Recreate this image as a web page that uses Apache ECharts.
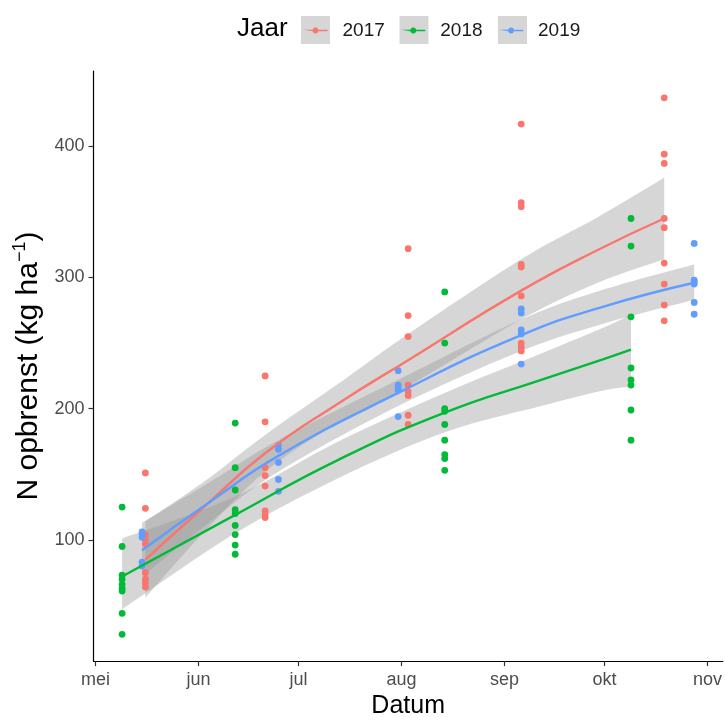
<!DOCTYPE html>
<html>
<head>
<meta charset="utf-8">
<script src="https://cdn.jsdelivr.net/npm/echarts@6/dist/echarts.min.js"></script>
<style>
  html, body { margin: 0; padding: 0; background: #fff; }
  #chart { width: 725px; height: 724px; }
</style>
</head>
<body>
<div id="chart"></div>
<script>
var years = ['2017', '2018', '2019'];
var colors = ['#F8766D', '#00BA38', '#619CFF'];
var monthDates = ['05-01', '06-01', '07-01', '08-01', '09-01', '10-01', '11-01'];
var monthLabels = ['mei', 'jun', 'jul', 'aug', 'sep', 'okt', 'nov'];
var yTicks = [100, 200, 300, 400];

// bemonsteringsdata per jaar
var dates2017 = ['05-16', '06-21', '08-03', '09-06', '10-19'];
var values2017 = [
    [151, 124, 104, 100, 97, 75, 70, 67, 64],
    [225, 190, 155, 149, 141, 122, 119, 117],
    [322, 271, 255, 218, 213, 210, 195, 188],
    [417, 357, 354, 310, 308, 286, 250, 247, 244],
    [437, 394, 387, 345, 338, 311, 295, 279, 267]
];
var dates2018 = ['05-09', '06-12', '08-14', '10-09'];
var values2018 = [
    [125, 95, 73, 70, 66, 63, 61, 44, 28],
    [189, 155, 138, 123, 120, 111, 104, 96, 89],
    [289, 250, 200, 198, 188, 176, 165, 162, 153],
    [345, 324, 270, 231, 222, 218, 199, 176]
];
var dates2019 = ['05-15', '06-25', '07-31', '09-06', '10-28'];
var values2019 = [
    [106, 104, 102, 83, 80],
    [172, 169, 159, 146, 137],
    [229, 218, 216, 214, 194],
    [276, 273, 260, 257, 234],
    [326, 298, 296, 295, 281, 272]
];

var fitDates2017 = ['05-16', '06-03', '06-21', '07-13', '08-03', '09-06', '09-29', '10-19'];
var fit2017 = [85, 126, 166, 204, 237, 290, 321, 345];
var upper2017 = [114, 145, 180, 219, 257, 314, 346, 376];
var lower2017 = [56, 107, 152, 189, 217, 268, 296, 314];

var fitDates2018 = ['05-09', '06-12', '07-13', '08-14', '09-12', '10-01', '10-09'];
var fit2018 = [72, 119, 161, 197, 222, 238, 245];
var upper2018 = [101, 133, 175, 212, 242, 262, 272];
var lower2018 = [47, 105, 147, 182, 202, 214, 217];

var fitDates2019 = ['05-15', '06-05', '06-25', '07-31', '09-06', '10-01', '10-28'];
var fit2019 = [92, 130, 164, 212, 256, 278, 296];
var upper2019 = [113, 145, 176, 222, 268, 291, 310];
var lower2019 = [72, 115, 152, 202, 244, 265, 283];

function day(md) {
    var p = md.split('-');
    return (Date.UTC(2001, +p[0] - 1, +p[1]) - Date.UTC(2001, 0, 1)) / 864e5 + 1;
}

function points(dates, values) {
    var out = [];
    dates.forEach(function (d, i) {
        values[i].forEach(function (v) { out.push([day(d), v]); });
    });
    return out;
}

function pairs(dates, vals) {
    return dates.map(function (d, i) { return [day(d), vals[i]]; });
}

// catmull-rom door de pixelpunten, voor een gladde bandrand
function curve(pts, cmd) {
    var s = cmd + pts[0][0] + ' ' + pts[0][1];
    for (var i = 0; i < pts.length - 1; i++) {
        var p0 = pts[Math.max(i - 1, 0)], p1 = pts[i], p2 = pts[i + 1], p3 = pts[Math.min(i + 2, pts.length - 1)];
        var c1x = p1[0] + (p2[0] - p0[0]) / 6, c1y = p1[1] + (p2[1] - p0[1]) / 6;
        var c2x = p2[0] - (p3[0] - p1[0]) / 6, c2y = p2[1] - (p3[1] - p1[1]) / 6;
        s += 'C' + c1x + ' ' + c1y + ' ' + c2x + ' ' + c2y + ' ' + p2[0] + ' ' + p2[1];
    }
    return s;
}

var scatterData = [points(dates2017, values2017), points(dates2018, values2018), points(dates2019, values2019)];
var smooth = [
    { d: fitDates2017, f: fit2017, u: upper2017, l: lower2017 },
    { d: fitDates2018, f: fit2018, u: upper2018, l: lower2018 },
    { d: fitDates2019, f: fit2019, u: upper2019, l: lower2019 }
];

// asbereik zoals ggplot: 5% marge rond de data
var allX = [], allY = [];
scatterData.forEach(function (s) { s.forEach(function (p) { allX.push(p[0]); allY.push(p[1]); }); });
var xLo = Math.min.apply(null, allX), xHi = Math.max.apply(null, allX);
var yLo = Math.min.apply(null, allY), yHi = Math.max.apply(null, allY);
var xPad = (xHi - xLo) * 0.05, yPad = (yHi - yLo) * 0.05;

var monthDays = monthDates.map(day);

var font = 'Liberation Sans, Arial, sans-serif';

var series = [];
years.forEach(function (yr, i) {
    series.push({
        name: yr,
        type: 'scatter',
        data: scatterData[i],
        symbolSize: 6.8,
        itemStyle: { color: colors[i], opacity: 1 }
    });
});
years.forEach(function (yr, i) {
    var s = smooth[i];
    var band = s.d.map(function (d, k) { return [day(d), s.l[k], s.u[k]]; });
    series.push({
        name: yr,
        type: 'custom',
        data: band,
        encode: { x: 0, y: [1, 2] },
        silent: true,
        renderItem: function (params, api) {
            if (params.dataIndex !== 0) return null;
            var up = band.map(function (p) { return api.coord([p[0], p[2]]); });
            var lo = band.map(function (p) { return api.coord([p[0], p[1]]); }).reverse();
            return {
                type: 'path',
                shape: { pathData: curve(up, 'M') + curve(lo, 'L') + 'Z' },
                style: { fill: 'rgba(153,153,153,0.4)', stroke: null }
            };
        }
    });
    series.push({
        name: yr,
        type: 'line',
        data: pairs(s.d, s.f),
        smooth: true,
        symbol: 'none',
        lineStyle: { color: colors[i], width: 2.4 },
        itemStyle: { color: colors[i] }
    });
});

var chart = echarts.init(document.getElementById('chart'));
chart.setOption({
    animation: false,
    backgroundColor: '#fff',
    textStyle: { fontFamily: font },
    title: {
        text: 'Jaar',
        left: 237,
        top: 16,
        padding: 0,
        textStyle: { fontSize: 26, fontWeight: 'normal', color: '#000', fontFamily: font }
    },
    graphic: [0, 1, 2].map(function (k) {
        return {
            type: 'rect',
            left: 301 + k * 98.5,
            top: 16,
            z: 0,
            shape: { width: 29, height: 28 },
            style: { fill: '#d6d6d6' }
        };
    }),
    legend: {
        data: years,
        left: 303.5,
        top: 21,
        padding: 0,
        z: 10,
        itemWidth: 24,
        itemHeight: 6,
        itemGap: 16.5,
        selectedMode: false,
        icon: 'path://M0 2.2H9.11A3 3 0 0 1 14.89 2.2H24V3.8H14.89A3 3 0 0 1 9.11 3.8Z',
        formatter: '{t|{name}}',
        textStyle: {
            rich: { t: { fontSize: 19, color: '#1a1a1a', padding: [0, 0, 0, 10], fontFamily: font } }
        }
    },
    grid: { left: 93.5, right: 0, top: 71, bottom: 55 },
    xAxis: {
        type: 'value',
        min: xLo - xPad,
        max: xHi + xPad,
        name: 'Datum',
        nameLocation: 'middle',
        nameGap: 31,
        nameTextStyle: { fontSize: 25, color: '#000', fontFamily: font },
        splitLine: { show: false },
        axisLine: { lineStyle: { color: '#000', width: 1.2 } },
        axisTick: { customValues: monthDays, length: 5, lineStyle: { color: '#333', width: 1.2 } },
        axisLabel: {
            customValues: monthDays,
            margin: 10,
            fontSize: 18,
            color: '#4d4d4d',
            fontFamily: font,
            formatter: function (v) {
                var k = monthDays.indexOf(Math.round(v));
                return k >= 0 ? monthLabels[k] : '';
            }
        }
    },
    yAxis: {
        type: 'value',
        min: yLo - yPad,
        max: yHi + yPad,
        name: '{n|N opbrenst (kg ha}{s|\u22121}{n|)}',
        nameLocation: 'middle',
        nameGap: 28,
        nameTextStyle: {
            color: '#000',
            rich: {
                n: { fontSize: 30, lineHeight: 35, color: '#000', fontFamily: font },
                s: { fontSize: 18, lineHeight: 18, verticalAlign: 'top', color: '#000', fontFamily: font }
            }
        },
        splitLine: { show: false },
        axisLine: { show: true, lineStyle: { color: '#000', width: 1.2 } },
        axisTick: { show: true, customValues: yTicks, length: 5, lineStyle: { color: '#333', width: 1.2 } },
        axisLabel: { customValues: yTicks, margin: 9, fontSize: 18, color: '#4d4d4d', fontFamily: font }
    },
    series: series
});
</script>
</body>
</html>
